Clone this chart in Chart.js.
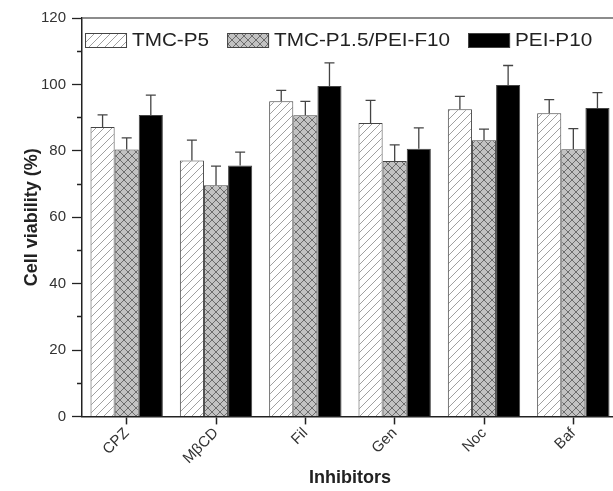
<!DOCTYPE html>
<html>
<head>
<meta charset="utf-8">
<script src="https://cdn.jsdelivr.net/npm/chart.js@4"></script>
<style>
  html, body { margin: 0; padding: 0; background: #fff; overflow: hidden; }
  #wrap { position: relative; width: 620px; height: 491px; }
</style>
</head>
<body>
<div id="wrap"><canvas id="chart"></canvas></div>
<script>
const categories = ['CPZ', 'MβCD', 'Fil', 'Gen', 'Noc', 'Baf'];
const seriesNames = ['TMC-P5', 'TMC-P1.5/PEI-F10', 'PEI-P10'];

const tmcP5 = [87.2, 77.1, 94.9, 88.4, 92.5, 91.3];
const tmcP5Err = [3.6, 6.1, 3.3, 6.8, 3.9, 4.1];
const tmcPei = [80.4, 69.6, 90.7, 76.9, 83.2, 80.5];
const tmcPeiErr = [3.5, 5.8, 4.2, 4.9, 3.3, 6.2];
const peiP10 = [90.8, 75.6, 99.5, 80.6, 99.8, 92.9];
const peiP10Err = [6.0, 4.0, 7.0, 6.3, 5.9, 4.6];

const yTicks = [0, 20, 40, 60, 80, 100, 120];

const canvas = document.getElementById('chart');
const ctx = canvas.getContext('2d');
const FONT = "'Liberation Sans', Arial, sans-serif";

function hatchPattern() {
  const c = document.createElement('canvas');
  c.width = 8; c.height = 8;
  const g = c.getContext('2d');
  g.fillStyle = '#fff';
  g.fillRect(0, 0, 8, 8);
  g.strokeStyle = '#777';
  g.lineWidth = 0.7;
  g.beginPath();
  g.moveTo(0, 8); g.lineTo(8, 0);
  g.moveTo(-1, 1); g.lineTo(1, -1);
  g.moveTo(7, 9); g.lineTo(9, 7);
  g.stroke();
  return ctx.createPattern(c, 'repeat');
}

function crossPattern() {
  const c = document.createElement('canvas');
  c.width = 8; c.height = 8;
  const g = c.getContext('2d');
  g.fillStyle = '#c2c2c2';
  g.fillRect(0, 0, 8, 8);
  g.strokeStyle = '#555';
  g.lineWidth = 0.8;
  g.beginPath();
  g.moveTo(0, 8); g.lineTo(8, 0);
  g.moveTo(-1, 1); g.lineTo(1, -1);
  g.moveTo(7, 9); g.lineTo(9, 7);
  g.moveTo(0, 0); g.lineTo(8, 8);
  g.moveTo(-1, 7); g.lineTo(1, 9);
  g.moveTo(7, -1); g.lineTo(9, 1);
  g.stroke();
  return ctx.createPattern(c, 'repeat');
}

// error bars (upper only) drawn through the y scale
const errorBars = {
  id: 'errorBars',
  afterDatasetsDraw(chart) {
    const c = chart.ctx;
    const yScale = chart.scales.y;
    c.save();
    c.strokeStyle = '#444';
    c.lineWidth = 1.3;
    chart.data.datasets.forEach((ds, i) => {
      chart.getDatasetMeta(i).data.forEach((bar, j) => {
        const top = yScale.getPixelForValue(ds.data[j] + ds.errors[j]);
        c.beginPath();
        c.moveTo(bar.x, bar.y);
        c.lineTo(bar.x, top);
        c.moveTo(bar.x - 5, top);
        c.lineTo(bar.x + 5, top);
        c.stroke();
      });
    });
    c.restore();
  }
};

// top frame line + legend inside the plot area
// (legend text is a little wide in the original figure, so stretch it)
const frameLegend = {
  id: 'frameLegend',
  afterDraw(chart) {
    const c = chart.ctx;
    const area = chart.chartArea;
    const stretch = 1.15;
    c.save();
    c.strokeStyle = '#666';
    c.lineWidth = 1.5;
    c.beginPath();
    c.moveTo(area.left, area.top);
    c.lineTo(area.right, area.top);
    c.stroke();

    c.font = '18px ' + FONT;
    c.textBaseline = 'middle';
    let x = area.left + 3;
    const y = area.top + 15;
    chart.data.datasets.forEach(ds => {
      c.fillStyle = ds.backgroundColor;
      c.fillRect(x, y, 42, 15);
      c.strokeStyle = '#444';
      c.lineWidth = 1;
      c.strokeRect(x + 0.5, y + 0.5, 41, 14);
      x += 47;
      c.save();
      c.translate(x, y + 8);
      c.scale(stretch, 1);
      c.fillStyle = '#222';
      c.fillText(ds.label, 0, 0);
      c.restore();
      x += c.measureText(ds.label).width * stretch + 18;
    });
    c.restore();
  }
};

new Chart(ctx, {
  type: 'bar',
  data: {
    labels: categories,
    datasets: [
      { label: seriesNames[0], data: tmcP5, errors: tmcP5Err, backgroundColor: hatchPattern() },
      { label: seriesNames[1], data: tmcPei, errors: tmcPeiErr, backgroundColor: crossPattern() },
      { label: seriesNames[2], data: peiP10, errors: peiP10Err, backgroundColor: '#000' }
    ].map(d => Object.assign(d, {
      borderColor: '#444',
      borderWidth: 1,
      categoryPercentage: 0.81,
      barPercentage: 1.0
    }))
  },
  options: {
    responsive: true,
    maintainAspectRatio: false,
    animation: false,
    layout: { padding: { top: 18, right: 2, left: 23, bottom: 2 } },
    scales: {
      x: {
        grid: { offset: false, drawOnChartArea: false, tickLength: 8, tickColor: '#222', tickWidth: 1.5 },
        border: { color: '#222', width: 1.5 },
        ticks: { minRotation: 45, maxRotation: 45, color: '#333', font: { family: FONT, size: 15 }, padding: 0 },
        title: { display: true, text: 'Inhibitors', color: '#222', font: { family: FONT, size: 18, weight: 'bold' }, padding: { top: 0, bottom: 0 } }
      },
      y: {
        min: 0,
        max: 120,
        grid: {
          drawOnChartArea: false,
          tickLength: 10,
          tickColor: '#222',
          tickWidth: 1.3,
          tickBorderDash: c => (yTicks.includes(c.tick.value) ? [] : [0, 5, 5, 0])
        },
        border: { color: '#222', width: 1.5 },
        ticks: {
          stepSize: 10,
          autoSkip: false,
          color: '#333',
          font: { family: FONT, size: 15 },
          padding: 6,
          callback: v => (yTicks.includes(v) ? v : '')
        },
        title: {
          display: true,
          text: 'Cell viability (%)',
          color: '#222',
          font: { family: FONT, size: 18, weight: 'bold', lineHeight: 1 },
          padding: { top: 0, bottom: -6 }
        }
      }
    },
    plugins: {
      legend: { display: false },
      tooltip: { enabled: false }
    }
  },
  plugins: [errorBars, frameLegend]
});
</script>
</body>
</html>
